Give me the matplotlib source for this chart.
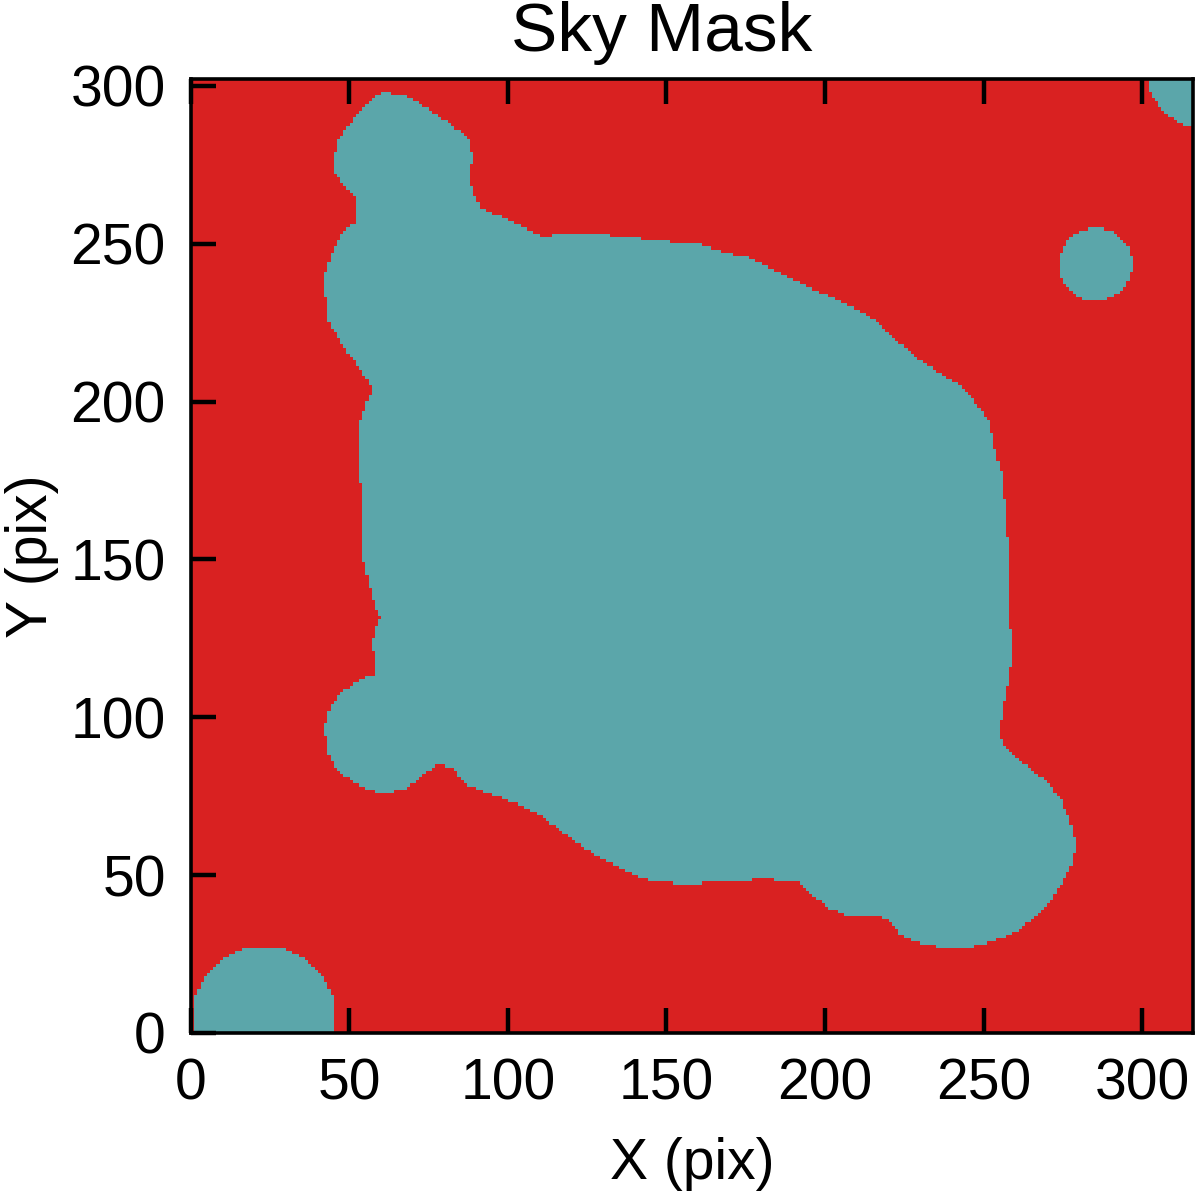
#!/usr/bin/env python3
"""Sky mask image: masked sources (teal) over sky pixels (red)."""

import matplotlib

matplotlib.use("Agg")
import matplotlib.pyplot as plt
import numpy as np
from matplotlib.colors import ListedColormap
from matplotlib.path import Path

plt.rcParams["font.family"] = ["Liberation Sans", "DejaVu Sans"]

# image size in pixels
NX, NY = 316, 302

# outline of the large masked region (x, y in pixels)
blob_x = [
    44.9, 46.1, 48.0, 53.4, 58.8, 61.9, 68.2, 76.5, 84.0, 88.2, 88.8, 87.5,
    89.1, 91.3, 97.6, 108.1, 111.2, 116.6, 129.2, 150.4, 160.8, 167.1, 175.7,
    186.1, 196.5, 207.3, 215.5, 221.8, 228.1, 236.7, 243.0, 247.1, 251.5,
    253.4, 255.6, 256.6, 257.5, 258.1, 258.8, 257.2, 255.0, 255.6, 258.8,
    264.1, 270.5, 274.6, 277.1, 278.7, 278.4, 275.5, 271.4, 266.0, 259.7,
    253.4, 248.3, 238.9, 230.3, 224.0, 219.9, 216.7, 207.3, 200.9, 195.6,
    192.4, 180.7, 164.9, 154.5, 145.0, 138.7, 129.2, 120.7, 110.3, 101.7,
    93.5, 85.9, 82.8, 78.7, 76.5, 73.3, 68.2, 61.9, 56.6, 51.2, 46.1, 43.0,
    42.3, 43.9, 48.0, 53.4, 58.1, 57.2, 58.8, 59.7, 58.1, 55.9, 54.3, 54.3,
    53.4, 53.4, 55.6, 57.5, 53.4, 47.1, 43.3, 42.3, 42.3, 44.5, 48.0, 51.8,
    51.8, 48.0, 45.5,
]
blob_y = [
    276.6, 282.0, 285.1, 292.4, 297.2, 297.8, 296.5, 291.5, 286.1, 282.0,
    275.6, 271.2, 266.1, 261.3, 258.5, 253.4, 252.1, 252.8, 252.8, 250.6,
    249.6, 247.4, 245.5, 240.7, 235.3, 230.6, 225.8, 220.1, 214.1, 208.4,
    204.6, 199.8, 194.1, 185.5, 177.3, 167.8, 157.0, 141.1, 118.0, 108.5,
    96.7, 92.6, 88.5, 84.0, 79.0, 73.6, 67.2, 60.9, 54.6, 49.2, 41.9, 36.5,
    31.7, 29.2, 27.6, 27.0, 28.2, 30.8, 35.5, 37.1, 37.1, 39.6, 44.1, 47.6,
    48.8, 47.6, 47.3, 48.2, 50.4, 55.2, 60.9, 68.8, 72.9, 76.1, 79.0, 83.7,
    84.7, 84.4, 81.5, 77.7, 75.8, 76.8, 79.3, 83.1, 88.5, 96.7, 103.1, 108.5,
    112.0, 113.2, 124.3, 129.7, 131.6, 134.8, 143.4, 149.7, 164.6, 175.1,
    193.2, 200.4, 203.6, 210.0, 218.5, 225.8, 234.4, 240.7, 247.1, 253.4,
    256.6, 264.8, 268.0, 272.4,
]

# isolated round masks: centre x, centre y, radius
star_x = [23.0, 285.3, 321.0]
star_y = [5.0, 243.3, 306.0]
star_r = [22.5, 11.5, 20.0]

sky_color = "#d92121"
mask_color = "#5ba6aa"

# build the mask on the pixel grid
gx, gy = np.meshgrid(np.arange(NX) + 0.5, np.arange(NY) + 0.5)
pts = np.column_stack([gx.ravel(), gy.ravel()])
mask = Path(np.column_stack([blob_x, blob_y])).contains_points(pts).reshape(NY, NX)
for cx, cy, r in zip(star_x, star_y, star_r):
    mask |= (gx - cx) ** 2 + (gy - cy) ** 2 <= r**2

fig = plt.figure(figsize=(12, 11.95), dpi=100)
ax = fig.add_axes([0.159, 0.1356, 0.835, 0.7979])
ax.imshow(
    mask.astype(int),
    origin="lower",
    cmap=ListedColormap([sky_color, mask_color]),
    vmin=0,
    vmax=1,
    extent=[0, NX, 0, NY],
    aspect="auto",
    interpolation="nearest",
)
ax.set_xlim(0, NX)
ax.set_ylim(0, NY)
ax.set_xticks([0, 50, 100, 150, 200, 250, 300])
ax.set_yticks([0, 50, 100, 150, 200, 250, 300])
ax.tick_params(
    direction="in", length=18, width=3.2, labelsize=41, pad=18,
    top=True, right=False, color="black",
)
for s in ax.spines.values():
    s.set_linewidth(2.6)

ax.set_xlabel("X (pix)", fontsize=41, labelpad=18)
ax.set_ylabel("Y (pix)", fontsize=41, labelpad=8)
fig.text(0.551, 0.972, "Sky Mask", fontsize=50, ha="center", va="center")

fig.savefig("out.png", dpi=100)
